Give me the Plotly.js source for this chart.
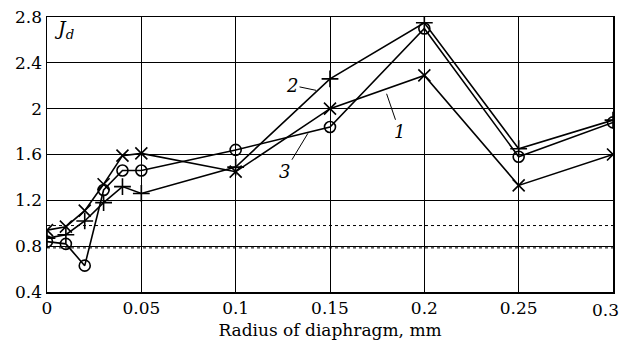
<!DOCTYPE html>
<html><head><meta charset="utf-8">
<script src="https://cdn.plot.ly/plotly-3.0.1.min.js"></script>
<style>body{margin:0;background:#fff}#c{width:621px;height:347px}</style>
</head><body><div id="c"></div>
<script>
const radius = [0, 0.01, 0.02, 0.03, 0.04, 0.05, 0.1, 0.15, 0.2, 0.25, 0.3];
const series1 = [0.94, 0.97, 1.11, 1.34, 1.59, 1.61, 1.45, 2.0, 2.29, 1.33, 1.6];
const series2 = [0.87, 0.9, 1.02, 1.18, 1.32, 1.26, 1.49, 2.26, 2.75, 1.65, 1.9];
const series3 = [0.84, 0.82, 0.63, 1.29, 1.46, 1.46, 1.64, 1.84, 2.70, 1.58, 1.88];
const dottedLevels = [0.98, 0.785];
const xTicks = [0, 0.05, 0.1, 0.15, 0.2, 0.25, 0.3];
const xTickText = ['0', '0.05', '0.1', '0.15', '0.2', '0.25', ''];
const lastXTick = '0.3';
const yTicks = [0.4, 0.8, 1.2, 1.6, 2, 2.4, 2.8];
const yTickText = ['0.4', '0.8', '1.2', '1.6', '2', '2.4', '2.8'];

const F = 'DejaVu Serif';
function tr(y, sym, size) {
  return {x: radius, y: y, type: 'scatter', mode: 'lines+markers', cliponaxis: true,
    line: {color: '#000', width: 1.6},
    marker: {symbol: sym, size: size, color: '#000', line: {color: '#000', width: 1.6}},
    showlegend: false, hoverinfo: 'skip'};
}
const data = [
  tr(series1, 'x-thin-open', 12),
  tr(series2, 'cross-thin-open', 12),
  tr(series3, 'circle-open', 11)
];
const shapes = dottedLevels.map(v => ({type: 'line', xref: 'paper', x0: 0, x1: 1, yref: 'y', y0: v, y1: v,
  line: {color: '#000', width: 1, dash: 'dot'}, layer: 'below'}));
function lab(t, x, y, ax, ay) {
  return {text: '<i>' + t + '</i>', x: x, y: y, xref: 'x', yref: 'y', showarrow: true, arrowhead: 0, arrowwidth: 1,
    arrowcolor: '#000', ax: ax, ay: ay, standoff: 0,
    font: {family: F, size: 18, color: '#000'}};
}
const layout = {
  width: 621, height: 347,
  margin: {l: 47, r: 8, t: 17, b: 55},
  paper_bgcolor: '#fff', plot_bgcolor: '#fff',
  font: {family: F, size: 17, color: '#000'},
  xaxis: {range: [0, 0.3], tickvals: xTicks, ticktext: xTickText, showgrid: true, gridcolor: '#000', gridwidth: 1,
    zeroline: false, showline: true, linecolor: '#000', linewidth: 1.5, mirror: true, ticks: '',
    tickfont: {family: F, size: 17}, title: {text: 'Radius of diaphragm, mm', font: {family: F, size: 17}, standoff: 7}},
  yaxis: {range: [0.4, 2.8], tickvals: yTicks, ticktext: yTickText, showgrid: true, gridcolor: '#000', gridwidth: 1,
    zeroline: false, showline: true, linecolor: '#000', linewidth: 1.5, mirror: true, ticks: '',
    ticklabeloverflow: 'allow',
    tickfont: {family: F, size: 17}},
  shapes: shapes,
  annotations: [
    {text: '<i>J<sub>d</sub></i>', xref: 'paper', yref: 'paper', x: 0.03, y: 0.955, xanchor: 'center', yanchor: 'middle',
      showarrow: false, font: {family: F, size: 19, color: '#000'}},
    {text: lastXTick, xref: 'paper', yref: 'paper', x: 1.0145, y: -0.022, xanchor: 'right', yanchor: 'top',
      showarrow: false, font: {family: F, size: 17, color: '#000'}},
    lab('1', 0.180, 2.13, 13, 38),
    lab('2', 0.1426, 2.16, -24, -5),
    lab('3', 0.1383, 1.785, -23, 38)
  ]
};
Plotly.newPlot('c', data, layout, {displayModeBar: false, staticPlot: true});
</script></body></html>
